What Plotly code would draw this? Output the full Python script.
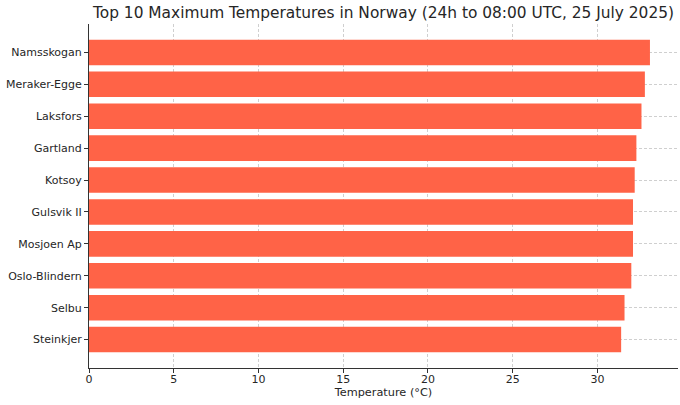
import plotly.graph_objects as go

stations = ["Namsskogan", "Meraker-Egge", "Laksfors", "Gartland", "Kotsoy",
            "Gulsvik II", "Mosjoen Ap", "Oslo-Blindern", "Selbu", "Steinkjer"]
max_temps = [33.1, 32.8, 32.6, 32.3, 32.2, 32.1, 32.1, 32.0, 31.6, 31.4]
x_ticks = [0, 5, 10, 15, 20, 25, 30]

font_family = "DejaVu Sans"
grid_color = "rgba(160,160,160,0.5)"

fig = go.Figure()
fig.add_trace(go.Bar(
    x=max_temps,
    y=stations,
    orientation="h",
    width=0.8,
    marker=dict(color="#FF6347", line=dict(width=0)),
))

fig.update_layout(
    width=680,
    height=405,
    paper_bgcolor="white",
    plot_bgcolor="white",
    margin=dict(l=89, r=2, t=24, b=37, autoexpand=False),
    showlegend=False,
    font=dict(family=font_family, color="#262626", size=11),
    title=dict(
        text="Top 10 Maximum Temperatures in Norway (24h to 08:00 UTC, 25 July 2025)",
        x=0.5, xanchor="center", xref="paper",
        y=0.968, yanchor="middle",
        font=dict(family=font_family, size=15.4, color="#262626"),
    ),
)

fig.update_xaxes(
    range=[0, max(max_temps) * 1.05],
    tickvals=x_ticks,
    ticks="outside", ticklen=4, tickcolor="#333333",
    ticklabelstandoff=-3,
    showline=True, linecolor="#333333", linewidth=1,
    showgrid=True, gridcolor=grid_color, griddash="3px,2px", gridwidth=0.8,
    zeroline=False, automargin=False,
    title=dict(text="Temperature (°C)", font=dict(size=11.3), standoff=0),
    tickfont=dict(size=11),
)
fig.update_yaxes(
    categoryorder="array",
    categoryarray=stations[::-1],
    range=[-0.89, len(stations) - 0.11],
    ticks="outside", ticklen=4, tickcolor="#333333",
    showline=True, linecolor="#333333", linewidth=1,
    showgrid=True, gridcolor=grid_color, griddash="3px,2px", gridwidth=0.8,
    zeroline=False, automargin=False,
    tickfont=dict(size=11),
)

# drop the default body margin so the figure fills the window
fig.write_html("out.html", config={"displayModeBar": False},
               post_script="document.body.style.margin='0';")
